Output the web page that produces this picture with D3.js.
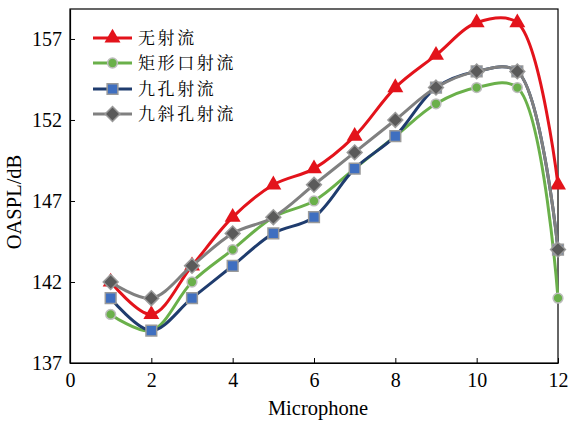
<!DOCTYPE html>
<html>
<head>
<meta charset="utf-8">
<script src="https://cdn.jsdelivr.net/npm/d3@7"></script>
<style>
  html, body { margin: 0; padding: 0; background: #fff; }
  svg { display: block; }
</style>
</head>
<body>
<svg id="chart" width="572" height="421"></svg>
<script>
// Microphone positions
const microphones = [1, 2, 3, 4, 5, 6, 7, 8, 9, 10, 11, 12];

// OASPL (dB) per configuration
const noJet      = [142, 140, 143, 146, 148, 149, 151, 154, 156, 158, 158, 148];
const rectJet    = [140, 139, 142, 144, 146, 147, 149, 151, 153, 154, 154, 141];
const nineHole   = [141, 139, 141, 143, 145, 146, 149, 151, 154, 155, 155, 144];
const nineSlant  = [142, 141, 143, 145, 146, 148, 150, 152, 154, 155, 155, 144];

const seriesNames = ["无射流", "矩形口射流", "九孔射流", "九斜孔射流"];

const xTicks = [0, 2, 4, 6, 8, 10, 12];
const yTicks = [137, 142, 147, 152, 157];

const series = [
  { name: seriesNames[0], values: noJet,     line: "#E3131B", fill: "#E3131B", stroke: "none",    shape: "triangle" },
  { name: seriesNames[1], values: rectJet,   line: "#6AB04A", fill: "#6AB04A", stroke: "#BDBDBD", shape: "circle" },
  { name: seriesNames[2], values: nineHole,  line: "#1F3C6E", fill: "#3F6FC0", stroke: "#9A9A9A", shape: "square" },
  { name: seriesNames[3], values: nineSlant, line: "#808080", fill: "#5A5A5A", stroke: "#9A9A9A", shape: "diamond" }
];

const svg = d3.select("#chart");
const m = { left: 70, right: 14, top: 9, bottom: 58 };
const W = 572, H = 421;

const x = d3.scaleLinear().domain([0, 12]).range([m.left, W - m.right]);
const y = d3.scaleLinear().domain([137, 158.85]).range([H - m.bottom, m.top]);

const font = "'Liberation Serif', 'Times New Roman', serif";

// frame
svg.append("rect")
  .attr("x", x(0)).attr("y", m.top)
  .attr("width", x(12) - x(0)).attr("height", y(137) - m.top)
  .attr("fill", "none").attr("stroke", "#000").attr("stroke-width", 1.2);

// axes with inward ticks
const xAxis = svg.append("g")
  .attr("transform", `translate(0,${y(137)})`)
  .call(d3.axisBottom(x).tickValues(xTicks).tickSizeInner(-5).tickSizeOuter(0).tickPadding(10));
const yAxis = svg.append("g")
  .attr("transform", `translate(${x(0)},0)`)
  .call(d3.axisLeft(y).tickValues(yTicks).tickSizeInner(-5).tickSizeOuter(0).tickPadding(8));

[xAxis, yAxis].forEach(g => {
  g.select(".domain").attr("stroke", "#000").attr("stroke-width", 1.2);
  g.selectAll(".tick line").attr("stroke", "#000").attr("stroke-width", 1);
  g.selectAll(".tick text").attr("font-family", font).attr("font-size", 20).attr("fill", "#000");
});

// axis titles
svg.append("text")
  .attr("x", (x(0) + x(12)) / 2 + 4).attr("y", 415)
  .attr("text-anchor", "middle")
  .attr("font-family", font).attr("font-size", 20.5)
  .text("Microphone");
svg.append("text")
  .attr("transform", `translate(21,${(y(137) + m.top) / 2 + 16}) rotate(-90)`)
  .attr("text-anchor", "middle")
  .attr("font-family", font).attr("font-size", 20.5)
  .text("OASPL/dB");

// a diamond drawn as a square turned by 45 degrees
const diamondSym = {
  draw(ctx, size) {
    const r = Math.sqrt(size / 2);
    ctx.moveTo(0, -r); ctx.lineTo(r, 0); ctx.lineTo(0, r); ctx.lineTo(-r, 0); ctx.closePath();
  }
};

const symbolFor = {
  triangle: d3.symbol().type(d3.symbolTriangle).size(110),
  circle:   d3.symbol().type(d3.symbolCircle).size(75),
  square:   d3.symbol().type(d3.symbolSquare).size(115),
  diamond:  d3.symbol().type(diamondSym).size(110)
};

const line = d3.line()
  .x((d, i) => x(microphones[i]))
  .y(d => y(d))
  .curve(d3.curveCatmullRom.alpha(0.5));

const plot = svg.append("g");
series.forEach(s => {
  const g = plot.append("g");
  g.append("path")
    .attr("d", line(s.values))
    .attr("fill", "none")
    .attr("stroke", s.line)
    .attr("stroke-width", 3);
  g.selectAll("path.mk")
    .data(s.values)
    .join("path")
    .attr("class", "mk")
    .attr("d", symbolFor[s.shape]())
    .attr("transform", (d, i) => `translate(${x(microphones[i])},${y(d)})`)
    .attr("fill", s.fill)
    .attr("stroke", s.stroke)
    .attr("stroke-width", s.stroke === "none" ? 0 : 1.5);
});

// legend
const legend = svg.append("g");
const rowY = [38, 63, 89, 114];
series.forEach((s, i) => {
  const g = legend.append("g").attr("transform", `translate(0,${rowY[i]})`);
  g.append("line")
    .attr("x1", 93).attr("x2", 132).attr("y1", 0).attr("y2", 0)
    .attr("stroke", s.line).attr("stroke-width", 3);
  g.append("path")
    .attr("d", symbolFor[s.shape]())
    .attr("transform", "translate(112.5,0)")
    .attr("fill", s.fill)
    .attr("stroke", s.stroke)
    .attr("stroke-width", s.stroke === "none" ? 0 : 1.5);
  g.append("text")
    .attr("x", 138).attr("y", 0).attr("dy", "0.36em")
    .attr("font-family", "'Noto Serif CJK SC', 'Noto Sans CJK SC', serif")
    .attr("font-size", 17)
    .attr("letter-spacing", 2.6)
    .text(s.name);
});
</script>
</body>
</html>
